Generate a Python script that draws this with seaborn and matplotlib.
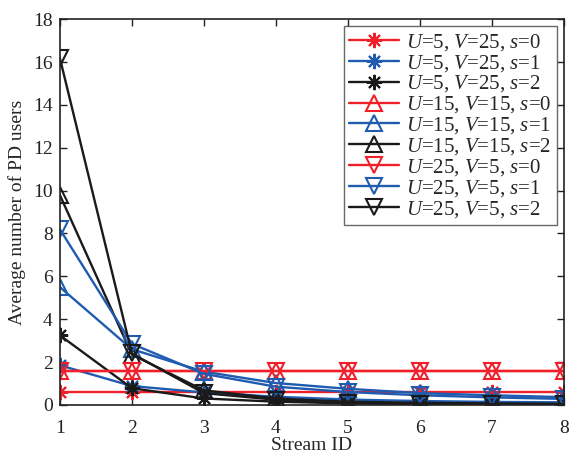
import numpy as np
import pandas as pd
import matplotlib
matplotlib.use('Agg')
import matplotlib.pyplot as plt
import seaborn as sns

sns.set_style('ticks')
plt.rcParams['font.family'] = ['Liberation Serif', 'DejaVu Serif']
plt.rcParams['mathtext.fontset'] = 'custom'
plt.rcParams['mathtext.rm'] = 'Liberation Serif'
plt.rcParams['mathtext.it'] = 'Liberation Serif:italic'

# Data
stream_id = [1, 2, 3, 4, 5, 6, 7, 8]

u5_v25_s0 = [0.58, 0.58, 0.58, 0.58, 0.58, 0.58, 0.58, 0.58]
u5_v25_s1 = [1.85, 0.88, 0.58, 0.38, 0.25, 0.18, 0.14, 0.12]
u5_v25_s2 = [3.25, 0.78, 0.30, 0.15, 0.07, 0.04, 0.03, 0.02]
u15_v15_s0 = [1.58, 1.58, 1.58, 1.58, 1.58, 1.58, 1.58, 1.58]
u15_v15_s1 = [5.5, 2.6, 1.55, 1.02, 0.75, 0.55, 0.45, 0.36]
u15_v15_s2 = [9.8, 2.35, 0.68, 0.30, 0.15, 0.10, 0.07, 0.05]
u25_v5_s0 = [1.58, 1.58, 1.58, 1.58, 1.58, 1.58, 1.58, 1.58]
u25_v5_s1 = [8.2, 2.85, 1.45, 0.85, 0.60, 0.45, 0.35, 0.28]
u25_v5_s2 = [16.2, 2.4, 0.55, 0.24, 0.10, 0.06, 0.04, 0.03]

labels = [
    '$U$=5, $V$=25, $s$=0', '$U$=5, $V$=25, $s$=1', '$U$=5, $V$=25, $s$=2',
    '$U$=15, $V$=15, $s$=0', '$U$=15, $V$=15, $s$=1', '$U$=15, $V$=15, $s$=2',
    '$U$=25, $V$=5, $s$=0', '$U$=25, $V$=5, $s$=1', '$U$=25, $V$=5, $s$=2',
]
series = [u5_v25_s0, u5_v25_s1, u5_v25_s2,
          u15_v15_s0, u15_v15_s1, u15_v15_s2,
          u25_v5_s0, u25_v5_s1, u25_v5_s2]

red = '#f0202a'
blue = '#1f5cb0'
black = '#1a1a1a'
colors = [red, blue, black] * 3
markers = [(8, 2, 0)] * 3 + ['^'] * 3 + ['v'] * 3

fig, ax = plt.subplots(figsize=(5.75, 4.57), dpi=100)
fig.subplots_adjust(left=0.104, right=0.981, bottom=0.114, top=0.958)

for vals, lab, col, mk in zip(series, labels, colors, markers):
    df = pd.DataFrame({'x': stream_id, 'y': vals})
    sns.lineplot(data=df, x='x', y='y', ax=ax, color=col, marker=mk,
                 markersize=11, markerfacecolor='none', markeredgecolor=col,
                 markeredgewidth=1.5, linewidth=1.7, label=lab)

ax.set_xlim(1, 8)
ax.set_ylim(0, 18)
ax.set_xticks(stream_id)
ax.set_yticks(np.arange(0, 19, 2))
ax.set_xlabel('Stream ID', fontsize=14, labelpad=0)
ax.set_ylabel('Average number of PD users', fontsize=14, labelpad=5)
ax.tick_params(direction='in', labelsize=14, length=5, width=1, top=True, right=True,
               labeltop=False, labelright=False, colors='#222222')
ax.tick_params(axis='x', pad=11)
ax.tick_params(axis='y', pad=5)
for sp in ax.spines.values():
    sp.set_visible(True)
    sp.set_linewidth(1.2)
    sp.set_color('#222222')

leg = ax.legend(loc='upper right', fontsize=15, frameon=True, fancybox=False,
                edgecolor='#444444', handlelength=2.4, borderpad=0.25,
                labelspacing=0.0, handletextpad=0.35, borderaxespad=0.35)
leg.get_frame().set_linewidth(1.0)

fig.savefig('out.png', dpi=100)
